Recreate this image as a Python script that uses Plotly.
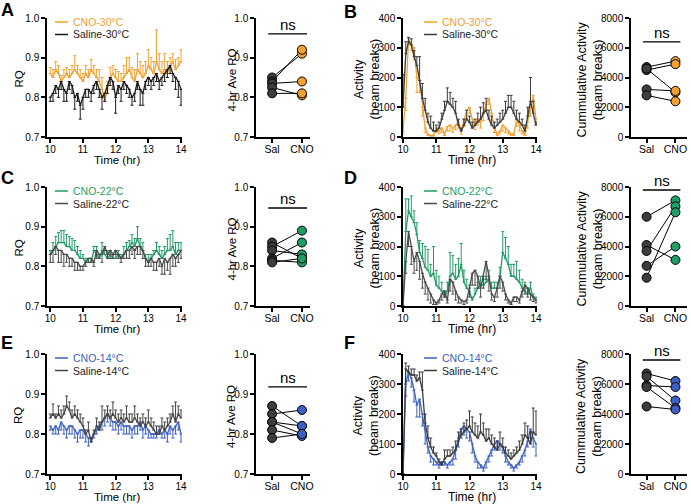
import plotly.graph_objects as go

# time grid (5-min bins, 10:00 - 14:00)
times = [10 + i / 12 for i in range(49)]

# ---- A: RQ 30C ----
A_cno = [0.86,0.85,0.87,0.86,0.84,0.85,0.86,0.85,0.86,0.87,0.86,0.85,0.84,0.86,0.85,0.87,0.86,0.85,0.84,0.82,0.79,0.82,0.85,0.86,0.85,
         0.84,0.84,0.85,0.86,0.87,0.85,0.84,0.87,0.86,0.85,0.86,0.88,0.87,0.86,0.89,0.87,0.86,0.87,0.86,0.88,0.89,0.87,0.88,0.89]
A_cno_err = [0.015,0.02,0.02,0.02,0.015,0.02,0.015,0.02,0.02,0.035,0.02,0.02,0.02,0.02,0.02,0.025,0.02,0.02,0.03,0.03,0.02,0.02,0.025,0.02,0.02,
             0.025,0.02,0.03,0.04,0.03,0.025,0.03,0.04,0.03,0.03,0.03,0.04,0.03,0.03,0.08,0.04,0.03,0.04,0.03,0.02,0.02,0.025,0.02,0.03]
A_sal = [0.80,0.81,0.83,0.82,0.84,0.82,0.81,0.84,0.83,0.80,0.81,0.78,0.80,0.82,0.82,0.81,0.83,0.84,0.82,0.80,0.81,0.83,0.85,0.84,0.80,
         0.83,0.82,0.84,0.83,0.82,0.80,0.81,0.84,0.82,0.81,0.84,0.85,0.84,0.85,0.86,0.84,0.85,0.86,0.87,0.88,0.86,0.85,0.84,0.82]
A_sal_err = [0.01,0.02,0.02,0.02,0.02,0.03,0.02,0.02,0.02,0.03,0.02,0.035,0.03,0.02,0.02,0.02,0.02,0.02,0.02,0.03,0.02,0.02,0.02,0.02,0.04,
             0.02,0.03,0.02,0.02,0.02,0.02,0.02,0.02,0.04,0.03,0.02,0.02,0.02,0.02,0.02,0.02,0.02,0.02,0.02,0.02,0.02,0.03,0.04,0.04]

# ---- B: activity 30C ----
B_cno = [20,130,330,310,300,200,190,100,30,10,5,5,30,20,30,10,35,40,30,40,50,20,60,90,100,
         60,40,60,50,80,110,130,80,30,10,20,40,30,20,10,10,60,40,20,10,50,100,140,60]
B_cno_err = [10,40,20,20,40,50,40,30,15,5,5,5,15,10,15,5,15,20,15,15,20,10,25,30,20,
             20,15,20,20,25,20,20,25,15,5,10,20,15,10,5,5,25,20,10,5,20,30,20,20]
B_sal = [100,280,320,310,270,240,190,130,90,50,30,20,20,30,60,90,120,110,100,80,40,20,40,60,50,
         30,40,50,60,80,90,60,40,30,40,50,60,80,100,100,80,60,50,40,20,70,120,80,40]
B_sal_err = [110,40,15,20,20,30,80,50,40,30,40,30,20,20,20,30,45,40,30,40,20,10,20,30,20,
             20,20,30,40,35,40,30,30,20,20,30,30,40,40,40,40,30,30,20,20,30,80,40,10]

# ---- C: RQ 22C ----
C_cno = [0.83,0.84,0.85,0.86,0.86,0.86,0.85,0.85,0.84,0.84,0.83,0.82,0.82,0.81,0.81,0.81,0.84,0.83,0.82,0.84,0.83,0.82,0.83,0.82,0.82,
         0.83,0.82,0.83,0.84,0.85,0.86,0.85,0.87,0.85,0.84,0.82,0.81,0.82,0.83,0.84,0.83,0.82,0.83,0.84,0.84,0.85,0.83,0.84,0.84]
C_cno_err = [0.01,0.02,0.025,0.025,0.03,0.03,0.03,0.025,0.03,0.025,0.02,0.02,0.01,0.01,0.01,0.01,0.01,0.02,0.01,0.02,0.01,0.02,0.01,0.01,0.01,
             0.01,0.01,0.02,0.02,0.015,0.02,0.02,0.03,0.02,0.02,0.01,0.02,0.01,0.01,0.02,0.02,0.02,0.02,0.03,0.04,0.04,0.03,0.02,0.02]
C_sal = [0.83,0.84,0.85,0.84,0.84,0.83,0.83,0.82,0.82,0.81,0.81,0.80,0.80,0.81,0.82,0.82,0.81,0.84,0.83,0.83,0.85,0.83,0.84,0.83,0.84,
         0.83,0.82,0.83,0.84,0.84,0.85,0.84,0.85,0.85,0.84,0.82,0.81,0.82,0.81,0.81,0.82,0.80,0.82,0.81,0.82,0.83,0.82,0.83,0.84]
C_sal_err = [0.02,0.03,0.02,0.03,0.03,0.03,0.02,0.02,0.02,0.02,0.02,0.01,0.01,0.01,0.01,0.01,0.01,0.02,0.01,0.02,0.01,0.01,0.02,0.01,0.01,
             0.01,0.01,0.01,0.02,0.02,0.02,0.02,0.02,0.02,0.02,0.02,0.01,0.02,0.02,0.02,0.02,0.02,0.04,0.02,0.04,0.03,0.02,0.02,0.02]

# ---- D: activity 22C ----
D_cno = [0,250,320,300,280,240,180,160,130,120,100,110,70,60,50,30,50,100,110,90,100,140,80,60,50,
         20,40,60,70,70,80,90,60,60,60,100,180,160,140,100,100,90,80,60,50,40,60,30,20]
D_cno_err = [0,110,40,70,40,40,40,50,70,70,40,90,50,40,30,20,30,80,60,50,60,70,40,30,20,
             10,20,20,30,20,20,30,20,20,20,30,70,70,60,40,40,60,40,30,30,20,20,10,10]
D_sal = [0,150,250,200,150,180,150,110,80,60,40,20,10,20,40,50,20,90,80,50,30,20,15,20,60,
         110,120,100,60,100,150,100,40,30,60,100,80,40,20,10,30,30,20,50,70,60,40,30,20]
D_sal_err = [0,40,50,60,40,60,60,50,40,40,30,15,5,10,20,20,10,40,40,30,20,10,10,10,30,
             40,50,40,30,40,60,50,20,15,30,40,30,20,10,5,15,15,10,20,30,30,20,15,10]

# ---- E: RQ 14C ----
E_cno = [0.82,0.81,0.82,0.81,0.83,0.82,0.81,0.82,0.82,0.81,0.80,0.81,0.81,0.80,0.79,0.79,0.80,0.81,0.82,0.83,0.84,0.85,0.84,0.83,0.83,
         0.82,0.83,0.82,0.82,0.82,0.81,0.82,0.82,0.83,0.81,0.82,0.81,0.80,0.80,0.80,0.81,0.80,0.81,0.80,0.82,0.81,0.82,0.83,0.80]
E_cno_err = [0.01,0.01,0.02,0.01,0.02,0.02,0.02,0.02,0.02,0.02,0.02,0.02,0.02,0.02,0.02,0.01,0.01,0.01,0.01,0.02,0.02,0.02,0.02,0.02,0.02,
             0.02,0.02,0.02,0.02,0.02,0.02,0.02,0.02,0.02,0.02,0.02,0.02,0.01,0.01,0.01,0.01,0.01,0.02,0.02,0.02,0.02,0.02,0.02,0.02]
E_sal = [0.84,0.85,0.84,0.85,0.84,0.85,0.87,0.86,0.84,0.85,0.84,0.83,0.82,0.80,0.81,0.78,0.80,0.82,0.81,0.83,0.84,0.85,0.84,0.85,0.84,
         0.83,0.84,0.83,0.84,0.83,0.83,0.84,0.83,0.82,0.83,0.82,0.83,0.82,0.81,0.80,0.80,0.82,0.81,0.82,0.83,0.85,0.83,0.85,0.84]
E_sal_err = [0.01,0.025,0.01,0.02,0.02,0.02,0.025,0.02,0.02,0.02,0.02,0.02,0.02,0.01,0.02,0.01,0.01,0.02,0.02,0.04,0.02,0.02,0.02,0.03,0.02,
             0.02,0.02,0.02,0.03,0.02,0.02,0.03,0.02,0.02,0.02,0.02,0.03,0.02,0.02,0.02,0.02,0.02,0.02,0.02,0.02,0.02,0.05,0.02,0.02]

# ---- F: activity 14C ----
F_cno = [0,300,340,320,280,230,250,200,150,90,60,50,40,30,40,40,30,40,50,80,120,150,160,150,140,
         100,60,40,30,20,40,60,80,100,110,100,90,60,40,30,20,30,40,60,80,110,150,120,100]
F_cno_err = [0,40,30,30,40,40,60,40,50,20,20,20,10,10,10,10,10,10,20,30,30,30,30,30,30,
             30,20,20,10,10,20,20,20,20,20,20,20,20,10,10,10,10,10,20,20,20,30,30,40]
F_sal = [0,350,340,330,330,310,320,280,170,120,90,70,60,40,30,50,60,60,70,80,110,130,140,150,160,
         140,130,120,140,130,110,120,100,90,80,100,90,70,60,50,60,70,80,100,130,120,100,140,130]
F_sal_err = [0,20,20,20,20,20,20,60,30,40,30,20,10,10,10,30,20,20,20,30,30,20,30,30,50,
             50,40,40,60,40,40,30,30,30,30,40,30,20,20,20,20,20,30,30,40,40,40,80,80]

# ---- paired dot plots (Sal vs CNO) ----
A_rq_sal = [0.85, 0.84, 0.835, 0.825, 0.81]
A_rq_cno = [0.91, 0.92, 0.84, 0.805, 0.81]
B_cum_sal = [4700, 4500, 4600, 3200, 2800]
B_cum_cno = [5100, 4900, 3000, 3100, 2400]
C_rq_sal = [0.86, 0.85, 0.84, 0.82, 0.815, 0.81]
C_rq_cno = [0.82, 0.89, 0.83, 0.86, 0.81, 0.82]
D_cum_sal = [6000, 4100, 3700, 2700, 1900]
D_cum_cno = [7100, 3100, 6700, 4000, 6300]
E_rq_sal = [0.87, 0.85, 0.83, 0.83, 0.81, 0.79]
E_rq_cno = [0.82, 0.86, 0.80, 0.82, 0.795, 0.80]
F_cum_sal = [6700, 6500, 5900, 5800, 4500]
F_cum_cno = [6200, 4900, 5800, 4400, 4300]

ORANGE = "#F5A031"
GREEN = "#1F9D63"
BLUE = "#3C60C4"
FONT = "Liberation Sans, Arial, sans-serif"
W, H = 691, 504

rows_px = [(18, 137), (187, 306), (354, 474)]
cols_px = [(47, 182), (256, 310), (403, 537), (631, 687)]


def px(xp, yp):
    return xp / W, 1 - yp / H


fig = go.Figure()
layout = {}
annotations = []
shapes = []


def note(xp, yp, text, size, color="black", xanchor="center", angle=0):
    x, y = px(xp, yp)
    annotations.append(dict(x=x, y=y, xref="paper", yref="paper", text=text, showarrow=False,
                            xanchor=xanchor, yanchor="middle", textangle=angle,
                            font=dict(family=FONT, size=size, color=color)))


def axis_names(r, c):
    k = r * 4 + c + 1
    s = "" if k == 1 else str(k)
    return "x" + s, "y" + s, "xaxis" + s, "yaxis" + s


def base_axis():
    return dict(showline=True, linecolor="black", linewidth=1.5, ticks="outside",
                ticklen=4, tickwidth=1.5, tickcolor="black", showgrid=False,
                zeroline=False, automargin=False,
                tickfont=dict(family=FONT, size=10, color="black"))


def setup_axes(r, c, xrange, yrange, ytickvals, yfmt=None, xtickvals=None, xticktext=None):
    xn, yn, xa, ya = axis_names(r, c)
    top, bot = rows_px[r]
    left, right = cols_px[c]
    xax = base_axis()
    xax.update(domain=[left / W, right / W], range=xrange, anchor=yn, ticklabelstandoff=-2)
    if xtickvals is not None:
        xax.update(tickvals=xtickvals, ticktext=xticktext)
        xax["tickfont"] = dict(family=FONT, size=10.5, color="black")
    else:
        xax.update(tickvals=[10, 11, 12, 13, 14])
    yax = base_axis()
    yax.update(domain=[1 - bot / H, 1 - top / H], range=yrange, anchor=xn, tickvals=ytickvals)
    if yfmt:
        yax.update(tickformat=yfmt)
    layout[xa] = xax
    layout[ya] = yax
    return xn, yn


def time_panel(r, c, yrange, ytickvals, yfmt, cno, cno_err, sal, sal_err, color, sal_color,
               cno_up, label_c, label_s):
    xn, yn = setup_axes(r, c, [9.9 if c == 0 else 10, 14.03], yrange, ytickvals, yfmt)
    n = len(times)
    zeros = [0] * n

    def err(vals, up):
        if up:
            return dict(type="data", array=vals, arrayminus=zeros, symmetric=False,
                        width=1.5, thickness=1)
        return dict(type="data", array=zeros, arrayminus=vals, symmetric=False,
                    width=1.5, thickness=1)

    fig.add_trace(go.Scatter(x=times, y=cno, mode="lines", xaxis=xn, yaxis=yn,
                             line=dict(color=color, width=1.3),
                             error_y=dict(err(cno_err, cno_up), color=color), showlegend=False))
    fig.add_trace(go.Scatter(x=times, y=sal, mode="lines", xaxis=xn, yaxis=yn,
                             line=dict(color=sal_color, width=1.3),
                             error_y=dict(err(sal_err, not cno_up), color=sal_color), showlegend=False))
    # legend
    top = rows_px[r][0]
    left = cols_px[c][0]
    lx = left + (8 if c == 0 else 21)
    for j, (txt, col) in enumerate([(label_c, color), (label_s, sal_color)]):
        ly = top + 4 + j * 12.5
        x0, y0 = px(lx, ly)
        x1, _ = px(lx + 13, ly)
        shapes.append(dict(type="line", xref="paper", yref="paper", x0=x0, x1=x1, y0=y0, y1=y0,
                           line=dict(color=col, width=1.5)))
        note(lx + 16, ly, txt, 10.5, col if col == color else "#222", xanchor="left")
    # x title
    bot = rows_px[r][1]
    note((cols_px[c][0] + cols_px[c][1]) / 2 + 2, bot + 23, "Time (hr)",
         11.5 if c == 0 else 12)


def dot_panel(r, c, yrange, ytickvals, yfmt, sal, cno, color, ns_y):
    xn, yn = setup_axes(r, c, [-0.54, 1.4 if c == 3 else 1.27], yrange, ytickvals, yfmt,
                        xtickvals=[0, 1], xticktext=["Sal", "CNO"])
    for s, v in zip(sal, cno):
        fig.add_trace(go.Scatter(x=[0, 1], y=[s, v], mode="lines", xaxis=xn, yaxis=yn,
                                 line=dict(color="black", width=1), showlegend=False))
    fig.add_trace(go.Scatter(x=[0] * len(sal), y=sal, mode="markers", xaxis=xn, yaxis=yn,
                             marker=dict(size=9, color="#3d3d3d", line=dict(color="black", width=1)),
                             showlegend=False))
    fig.add_trace(go.Scatter(x=[1] * len(cno), y=cno, mode="markers", xaxis=xn, yaxis=yn,
                             marker=dict(size=9, color=color, line=dict(color="black", width=1)),
                             showlegend=False))
    shapes.append(dict(type="line", xref=xn, yref=yn, x0=-0.13, x1=1.17, y0=ns_y, y1=ns_y,
                       line=dict(color="black", width=1.3)))
    annotations.append(dict(x=0.52, y=ns_y, xref=xn, yref=yn, text="ns", showarrow=False,
                            xanchor="center", yanchor="bottom", yshift=-1,
                            font=dict(family=FONT, size=15, color="black")))


def ytitle(xp, r, text, size=12.5):
    top, bot = rows_px[r]
    note(xp, (top + bot) / 2 + 2, text, size, angle=-90)


rq_ticks = [0.7, 0.8, 0.9, 1.0]
act_ticks = [0, 100, 200, 300, 400]
cum_ticks = [0, 2000, 4000, 6000, 8000]

panels = [
    (A_cno, A_cno_err, A_sal, A_sal_err, ORANGE, "#1a1a1a", "#3a3a3a", True, "CNO-30°C", "Saline-30°C",
     B_cno, B_cno_err, B_sal, B_sal_err, False, A_rq_sal, A_rq_cno, B_cum_sal, B_cum_cno, 0.96, 6400),
    (C_cno, C_cno_err, C_sal, C_sal_err, GREEN, "#4a4a4a", "#4a4a4a", True, "CNO-22°C", "Saline-22°C",
     D_cno, D_cno_err, D_sal, D_sal_err, True, C_rq_sal, C_rq_cno, D_cum_sal, D_cum_cno, 0.947, 7800),
    (E_cno, E_cno_err, E_sal, E_sal_err, BLUE, "#444444", "#3a3a3a", False, "CNO-14°C", "Saline-14°C",
     F_cno, F_cno_err, F_sal, F_sal_err, False, E_rq_sal, E_rq_cno, F_cum_sal, F_cum_cno, 0.918, 7600),
]

for r, p in enumerate(panels):
    (rc, rce, rs, rse, col, scol, scol2, rup, lc, ls,
     ac, ace, as_, ase, aup, rqs, rqc, cs, cc, ns1, ns2) = p
    time_panel(r, 0, [0.7, 1.0], rq_ticks, ".1f", rc, rce, rs, rse, col, scol, rup, lc, ls)
    dot_panel(r, 1, [0.7, 1.0], rq_ticks, ".1f", rqs, rqc, col, ns1)
    time_panel(r, 2, [0, 400], act_ticks, None, ac, ace, as_, ase, col, scol2, aup, lc, ls)
    dot_panel(r, 3, [0, 8000], cum_ticks, None, cs, cc, col, ns2)
    ytitle(18, r, "RQ", 11.5)
    ytitle(231, r, "4-hr Ave RQ", 11.5)
    ytitle(366, r, "Activity<br>(beam breaks)")
    ytitle(589, r, "Cummulative Activity<br>(beam breaks)")

for letter, xp, yp in [("A", 8, 10), ("B", 350, 12), ("C", 7, 178), ("D", 350, 178),
                       ("E", 7, 343), ("F", 349, 343)]:
    note(xp, yp, "<b>%s</b>" % letter, 18)

fig.update_layout(width=W, height=H, margin=dict(l=0, r=0, t=0, b=0),
                  plot_bgcolor="white", paper_bgcolor="white",
                  annotations=annotations, shapes=shapes, **layout)
# the page body has a default 8px margin; drop it so the figure fills the window
fig.write_html("out.html", config={"displayModeBar": False},
               post_script="document.body.style.margin='0px';")
